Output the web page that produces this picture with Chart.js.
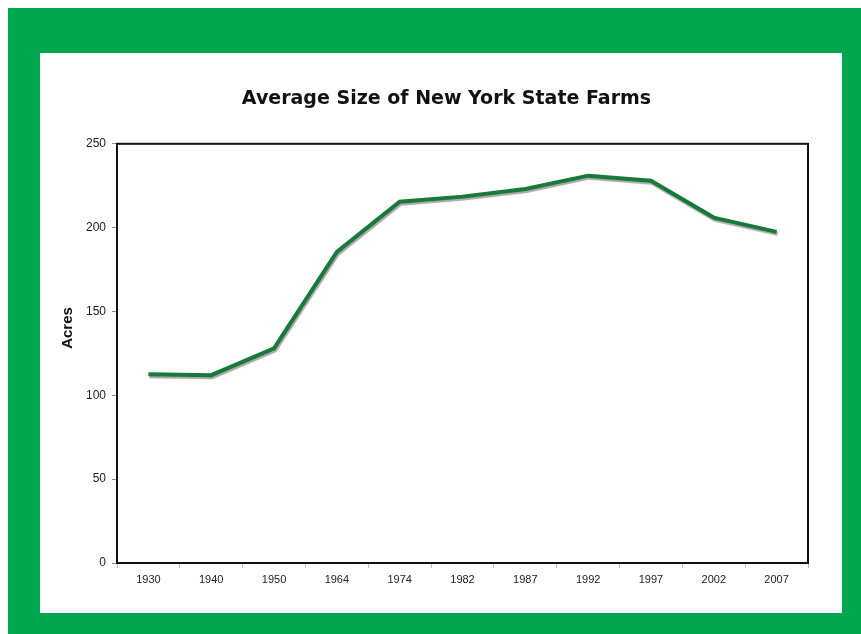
<!DOCTYPE html>
<html>
<head>
<meta charset="utf-8">
<script src="https://cdn.jsdelivr.net/npm/chart.js@4"></script>
<style>
  html, body { margin: 0; padding: 0; background: #fff; }
  #frame { position: absolute; left: 8px; top: 8px; width: 853px; height: 626px; background: #00a650; }
  #panel { position: absolute; left: 32px; top: 45px; width: 802px; height: 560px; background: #fff; }
  canvas { display: block; }
</style>
</head>
<body>
<div id="frame">
  <div id="panel"><canvas id="farmChart" width="802" height="560"></canvas></div>
</div>
<script>
// average NY farm size, acres
const years = ['1930', '1940', '1950', '1964', '1974', '1982', '1987', '1992', '1997', '2002', '2007'];
const acres = [112.5, 112, 128, 185.5, 215.5, 218.5, 223, 231, 228, 206, 197.5];
const yTicks = [0, 50, 100, 150, 200, 250];

// box round the plot, line shadow, rotated axis title
const framePlugin = {
  id: 'frame',
  beforeDatasetDraw(chart) {
    const c = chart.ctx;
    c.save();
    c.shadowColor = 'rgba(0,0,0,0.35)';
    c.shadowOffsetX = 1;
    c.shadowOffsetY = 2;
    c.shadowBlur = 1;
  },
  afterDatasetDraw(chart) {
    chart.ctx.restore();
  },
  afterDraw(chart) {
    const c = chart.ctx;
    const a = chart.chartArea;
    c.save();
    c.strokeStyle = '#111';
    c.lineWidth = 2;
    c.strokeRect(a.left, a.top, a.right - a.left, a.bottom - a.top);
    c.translate(28, 275);
    c.rotate(-Math.PI / 2);
    c.fillStyle = '#111';
    c.font = 'bold 15px "Liberation Sans", Arial, sans-serif';
    c.textAlign = 'center';
    c.textBaseline = 'middle';
    c.fillText('Acres', 0, 0);
    c.restore();
  }
};

const ctx = document.getElementById('farmChart').getContext('2d');

new Chart(ctx, {
  type: 'line',
  data: {
    labels: years,
    datasets: [{
      label: 'Acres',
      data: acres,
      borderColor: '#177a3b',
      borderWidth: 4,
      tension: 0,
      pointRadius: 0,
      fill: false
    }]
  },
  options: {
    responsive: false,
    animation: false,
    layout: { padding: { left: 45, right: 34, top: 0, bottom: 0 } },
    plugins: {
      legend: { display: false },
      tooltip: { enabled: false },
      title: {
        display: true,
        text: 'Average Size of New York State Farms',
        color: '#111',
        font: { family: '"DejaVu Sans", sans-serif', size: 19, weight: 'bold' },
        padding: { top: 35, bottom: 33 }
      }
    },
    scales: {
      x: {
        offset: true,
        grid: { offset: true, drawOnChartArea: false, tickLength: 5, color: '#bbb' },
        border: { display: false },
        ticks: {
          color: '#222',
          padding: 5,
          maxRotation: 0,
          font: { family: '"Liberation Sans", Arial, sans-serif', size: 11 }
        },
        afterFit(scale) { scale.height = 50; }
      },
      y: {
        min: 0,
        max: 250,
        afterBuildTicks(scale) { scale.ticks = yTicks.map(v => ({ value: v })); },
        grid: { drawOnChartArea: false, tickLength: 5, color: '#888' },
        border: { display: false },
        ticks: {
          color: '#222',
          padding: 6,
          font: { family: '"Liberation Sans", Arial, sans-serif', size: 12 }
        },
        afterFit(scale) { scale.width = 32; }
      }
    }
  },
  plugins: [framePlugin]
});
</script>
</body>
</html>
